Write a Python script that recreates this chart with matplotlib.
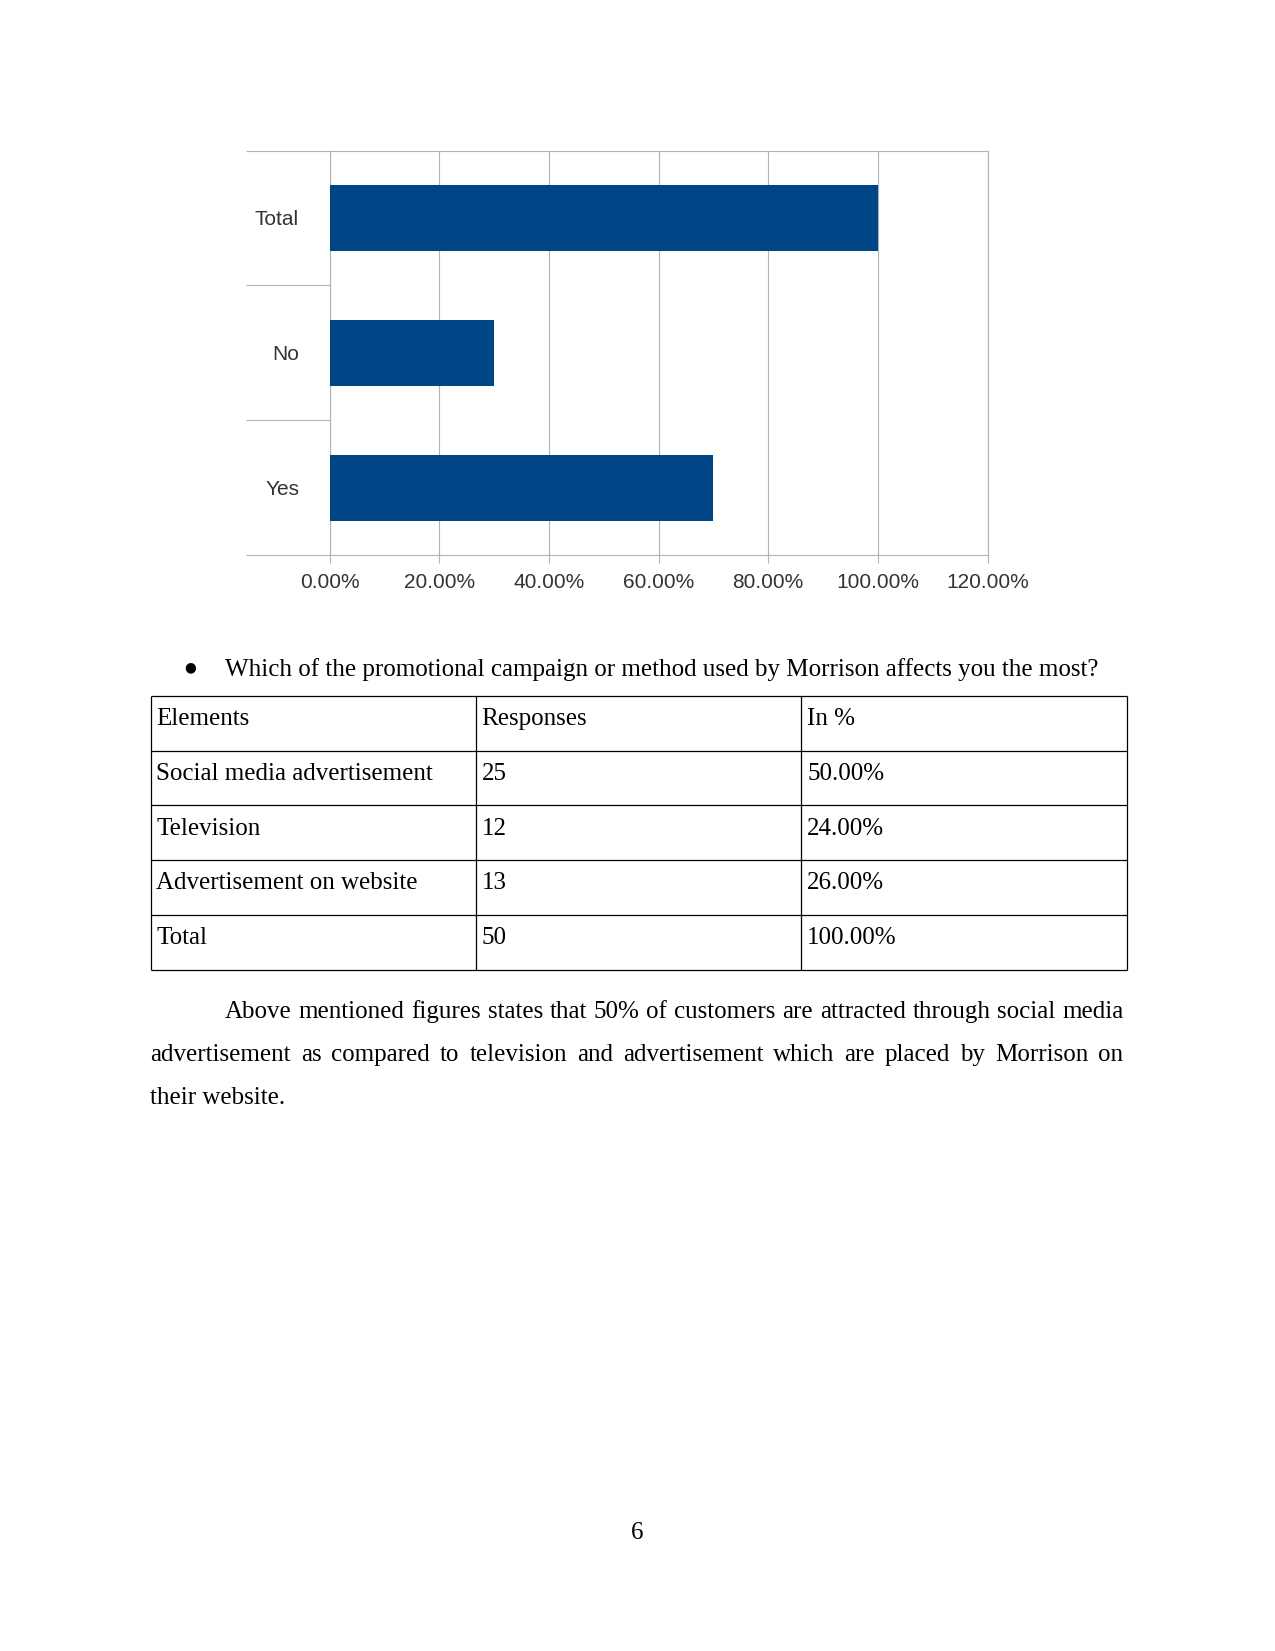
import matplotlib
matplotlib.use("Agg")
import matplotlib.pyplot as plt
from matplotlib.ticker import FixedLocator

W, H = 1275, 1651

# chart data
answers = ["Yes", "No", "Total"]
shares = [70.0, 30.0, 100.0]
x_ticks = [0, 20, 40, 60, 80, 100, 120]

# table data
question = "Which of the promotional campaign or method used by Morrison affects you the most?"
table_header = ["Elements", "Responses", "In %"]
elements = ["Social media advertisement", "Television", "Advertisement on website", "Total"]
responses = ["25", "12", "13", "50"]
percents = ["50.00%", "24.00%", "26.00%", "100.00%"]

paragraph = [
    "Above mentioned figures states that 50% of customers are attracted through social media",
    "advertisement as compared to television and advertisement which are placed by Morrison on",
    "their website.",
]
page_number = "6"

BLUE = "#004586"
GRID = "#b3b3b3"
LABEL = "#333333"
SERIF = "Liberation Serif"
SANS = "Liberation Sans"


def fx(px):
    return px / W


def fy(py):
    return 1 - py / H


def main():
    fig = plt.figure(figsize=(W / 150, H / 150), dpi=150)
    fig.patch.set_facecolor("white")

    # ---- bar chart ----
    ax = fig.add_axes([fx(329.5), fy(555), fx(987.5) - fx(329.5), fy(150.5) - fy(555)])
    ax.barh(range(len(answers)), shares, height=0.49, color=BLUE, zorder=3)
    ax.set_xlim(0, 120)
    ax.set_ylim(-0.5, len(answers) - 0.5)
    ax.set_xticks(x_ticks)
    ax.set_xticklabels(["%.2f%%" % v for v in x_ticks], family=SANS, fontsize=10, color=LABEL)
    ax.set_yticks(range(len(answers)))
    ax.set_yticklabels(answers, family=SANS, fontsize=10, color=LABEL)
    ax.yaxis.set_minor_locator(FixedLocator([i - 0.5 for i in range(len(answers) + 1)]))
    ax.tick_params(axis="y", which="major", length=0, pad=14.6)
    ax.tick_params(axis="y", which="minor", length=40.4, width=0.55, color=GRID)
    ax.tick_params(axis="x", which="major", length=3.8, width=0.55, color=GRID, pad=4.8)
    ax.grid(axis="x", color=GRID, linewidth=0.55, zorder=0)
    for s in ax.spines.values():
        s.set_color(GRID)
        s.set_linewidth(0.55)

    # ---- question with bullet ----
    fig.text(fx(190.5), fy(667.5), "\u25cf", family=["DejaVu Sans"], fontsize=6.5,
             ha="center", va="center")
    fig.text(fx(225), fy(676), question, family=SERIF, fontsize=12, va="baseline")

    # ---- table ----
    tax = fig.add_axes([fx(150.5), fy(969.6), fx(1126.5) - fx(150.5), fy(696) - fy(969.6)])
    nrows = len(elements) + 1
    ncols = len(table_header)
    tax.set_xlim(0, ncols)
    tax.set_ylim(nrows, 0)
    tax.axis("off")
    tax.hlines(range(nrows + 1), 0, ncols, color="black", linewidth=0.6, clip_on=False)
    tax.vlines(range(ncols + 1), 0, nrows, color="black", linewidth=0.6, clip_on=False)
    rows = [table_header] + [list(r) for r in zip(elements, responses, percents)]
    for i, row in enumerate(rows):
        for j, cell in enumerate(row):
            tax.text(j + 0.018, i + 0.535, cell, family=SERIF, fontsize=12, va="baseline")

    # ---- paragraph ----
    r = fig.canvas.get_renderer()
    baselines = [1018, 1061, 1104]
    starts = [225, 150.5, 150.5]
    right = 1123.4
    for k, line in enumerate(paragraph):
        if k == len(paragraph) - 1:
            fig.text(fx(starts[k]), fy(baselines[k]), line, family=SERIF, fontsize=12, va="baseline")
            continue
        words = line.split()
        texts = [fig.text(0, fy(baselines[k]), w, family=SERIF, fontsize=12, va="baseline") for w in words]
        widths = [t.get_window_extent(r).width for t in texts]
        gap = (right - starts[k] - sum(widths)) / (len(words) - 1)
        x = starts[k]
        for t, w in zip(texts, widths):
            t.set_x(fx(x))
            x += w + gap

    fig.text(fx(637.5), fy(1539), page_number, family=SERIF, fontsize=12, ha="center", va="baseline")

    fig.savefig("out.png", dpi=150, facecolor="white")


if __name__ == "__main__":
    main()
